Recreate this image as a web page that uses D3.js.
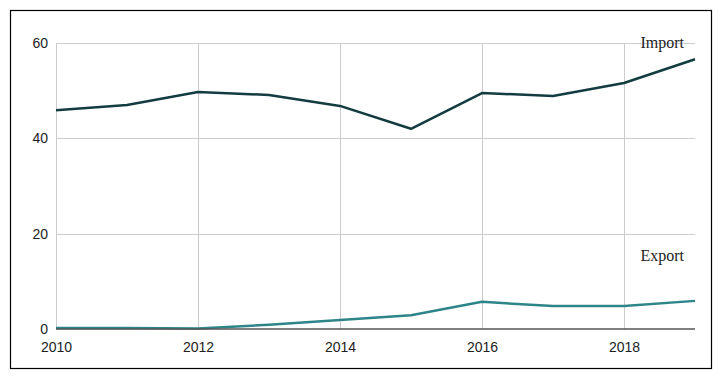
<!DOCTYPE html>
<html>
<head>
<meta charset="utf-8">
<script src="https://cdn.jsdelivr.net/npm/d3@7"></script>
<style>
  body { margin: 0; background: #fff; }
  svg { display: block; }
</style>
</head>
<body>
<div id="chart"></div>
<script>
const years = [2010, 2011, 2012, 2013, 2014, 2015, 2016, 2017, 2018, 2019];
const importVals = [45.9, 47.0, 49.7, 49.1, 46.8, 42.0, 49.5, 48.9, 51.6, 56.6];
const exportVals = [0.2, 0.2, 0.1, 0.9, 1.9, 2.9, 5.7, 4.8, 4.8, 5.9];
const xTicks = [2010, 2012, 2014, 2016, 2018];
const yTicks = [0, 20, 40, 60];
const seriesNames = ['Import', 'Export'];

const width = 723, height = 380;
const margin = {left: 56, right: 28, top: 43, bottom: 51};

const svg = d3.select('#chart').append('svg')
  .attr('width', width)
  .attr('height', height);

// outer frame
svg.append('rect')
  .attr('x', 10.5).attr('y', 10.5)
  .attr('width', 701).attr('height', 358)
  .attr('fill', 'none')
  .attr('stroke', '#000')
  .attr('stroke-width', 1.2);

const x = d3.scaleLinear()
  .domain([2010, 2019])
  .range([margin.left, width - margin.right]);
const y = d3.scaleLinear()
  .domain([0, 60])
  .range([height - margin.bottom, margin.top]);

// grid
const grid = svg.append('g')
  .attr('stroke', '#cccccc')
  .attr('stroke-width', 1);
grid.selectAll('line.h')
  .data(yTicks.filter(d => d > 0))
  .enter().append('line')
    .attr('x1', x(2010)).attr('x2', x(2019))
    .attr('y1', d => Math.round(y(d)) + 0.5)
    .attr('y2', d => Math.round(y(d)) + 0.5);
grid.selectAll('line.v')
  .data(xTicks)
  .enter().append('line')
    .attr('x1', d => Math.round(x(d)) + 0.5)
    .attr('x2', d => Math.round(x(d)) + 0.5)
    .attr('y1', y(60)).attr('y2', y(0));

// axes (text only)
const yAxis = svg.append('g')
  .attr('transform', `translate(${margin.left - 8},0)`)
  .call(d3.axisLeft(y).tickValues(yTicks).tickSize(0).tickPadding(0));
yAxis.select('.domain').remove();
yAxis.selectAll('text')
  .attr('font-family', 'Arial, "Liberation Sans", sans-serif')
  .attr('font-size', 14)
  .attr('fill', '#222');

const xAxis = svg.append('g')
  .attr('transform', `translate(0,${y(0) + 13})`)
  .call(d3.axisBottom(x).tickValues(xTicks).tickFormat(d3.format('d')).tickSize(0).tickPadding(0));
xAxis.select('.domain').remove();
xAxis.selectAll('text')
  .attr('font-family', 'Arial, "Liberation Sans", sans-serif')
  .attr('font-size', 14)
  .attr('fill', '#222');

const line = d3.line()
  .x((d, i) => x(years[i]))
  .y(d => y(d));

svg.append('path')
  .datum(exportVals)
  .attr('d', line)
  .attr('fill', 'none')
  .attr('stroke', '#2e8589')
  .attr('stroke-width', 2.5)
  .attr('stroke-linejoin', 'round');

// baseline
svg.append('line')
  .attr('x1', x(2010)).attr('x2', x(2019))
  .attr('y1', y(0)).attr('y2', y(0))
  .attr('stroke', '#555')
  .attr('stroke-width', 1.5);

svg.append('path')
  .datum(importVals)
  .attr('d', line)
  .attr('fill', 'none')
  .attr('stroke', '#133c40')
  .attr('stroke-width', 2.5)
  .attr('stroke-linejoin', 'round');

// series labels
svg.selectAll('text.lbl')
  .data(seriesNames)
  .enter().append('text')
    .attr('class', 'lbl')
    .attr('x', 684)
    .attr('y', (d, i) => i === 0 ? 48 : 261)
    .attr('text-anchor', 'end')
    .attr('font-family', '"Liberation Serif", "Times New Roman", serif')
    .attr('font-size', 16)
    .attr('fill', '#222')
    .text(d => d);
</script>
</body>
</html>
